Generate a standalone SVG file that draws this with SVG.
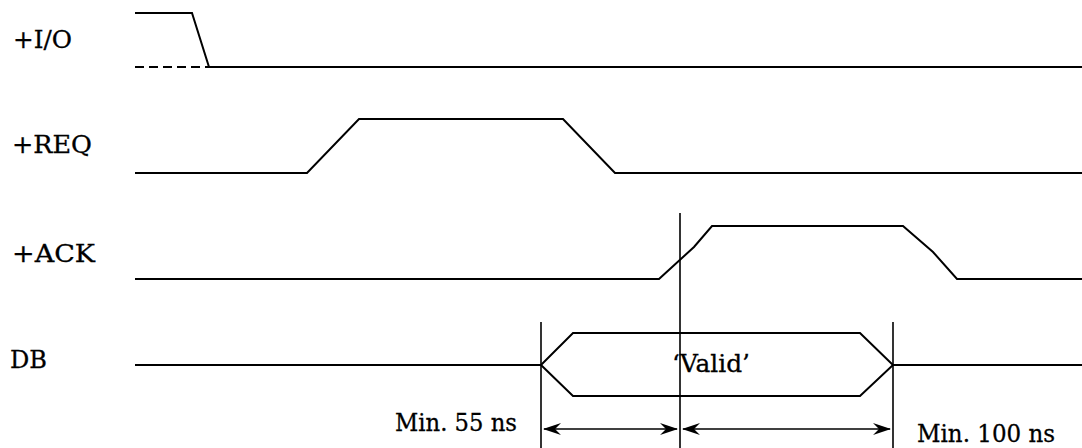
<svg xmlns="http://www.w3.org/2000/svg" width="1082" height="448" viewBox="0 0 1082 448">
<style>
.sig{fill:none;stroke:#000;stroke-width:2;stroke-linejoin:miter}
.lbl{font-family:"DejaVu Serif","Liberation Serif",serif;font-size:25px;fill:#000;stroke:#000;stroke-width:0.3}
.ref{stroke:#000;stroke-width:1.6}
.dim{stroke:#000;stroke-width:1.6;marker-start:url(#ah);marker-end:url(#ah)}
</style>
<defs>
<marker id="ah" viewBox="0 0 18 12" refX="17" refY="6" markerWidth="18" markerHeight="12" markerUnits="userSpaceOnUse" orient="auto-start-reverse">
<path d="M0,0 L18,6 L0,12 L6,6 Z" fill="#000"/>
</marker>
</defs>
<g id="io">
<text class="lbl" x="13" y="48" textLength="59" lengthAdjust="spacingAndGlyphs">+I/O</text>
<path class="sig" d="M135,13 H192 L209,67 H1082"/>
<path class="sig" d="M135,67 H209" stroke-dasharray="9,5"/>
</g>
<g id="req">
<text class="lbl" x="12" y="153" textLength="80" lengthAdjust="spacingAndGlyphs">+REQ</text>
<path class="sig" d="M135,173 H307 L359,119 H563 L615,173 H1082"/>
</g>
<g id="ack">
<text class="lbl" x="12" y="262" textLength="83" lengthAdjust="spacingAndGlyphs">+ACK</text>
<path class="sig" d="M135,279 H659 L694,247 L712,226 H903 L933,252 L957,279 H1082"/>
</g>
<g id="db">
<text class="lbl" x="10" y="368" textLength="37" lengthAdjust="spacingAndGlyphs">DB</text>
<path class="sig" d="M135,365 H541 L573,333 H860 L893,365 L860,396 H573 L541,365 M893,365 H1082"/>
<text class="lbl" x="672" y="372" textLength="78" lengthAdjust="spacingAndGlyphs">‘Valid’</text>
</g>
<g id="connectors">
<line class="ref" x1="680" y1="213" x2="680" y2="448"/>
<line class="ref" x1="541" y1="322" x2="541" y2="448"/>
<line class="ref" x1="893" y1="322" x2="893" y2="448"/>
<line class="dim" x1="544" y1="429" x2="677" y2="429"/>
<line class="dim" x1="683" y1="429" x2="890" y2="429"/>
</g>
<g id="timing">
<text class="lbl" x="395" y="431" textLength="122" lengthAdjust="spacingAndGlyphs">Min. 55 ns</text>
<text class="lbl" x="917" y="442" textLength="138" lengthAdjust="spacingAndGlyphs">Min. 100 ns</text>
</g>
</svg>
